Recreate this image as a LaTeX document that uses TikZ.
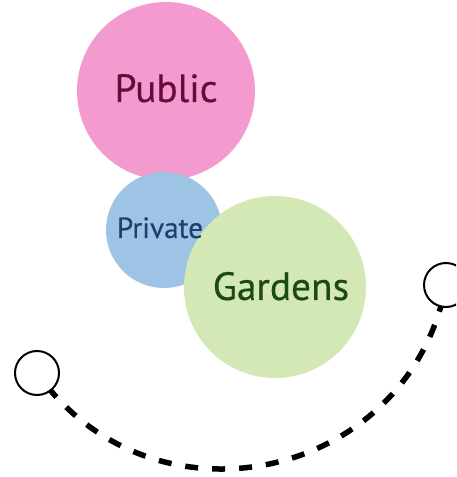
\documentclass[tikz,border=0pt]{standalone}
\usepackage{fontspec}
\setmainfont{PT Sans}
\newfontfamily\lblfont{PT Sans}[FakeBold=0.4]
\usetikzlibrary{backgrounds}
\definecolor{pubfill}{HTML}{F39BCF}
\definecolor{pubtext}{HTML}{6A0A3C}
\definecolor{privfill}{HTML}{9DC3E5}
\definecolor{privtext}{HTML}{1F3F6E}
\definecolor{gardfill}{HTML}{D4E8B5}
\definecolor{gardtext}{HTML}{1D4A0F}
\tikzset{
  bigc/.style={circle, inner sep=0pt, outer sep=0pt, draw=none},
  smallc/.style={circle, inner sep=0pt, outer sep=0pt, minimum size=44pt, draw=black, line width=2pt, fill=white},
  lbl/.style={anchor=base, inner sep=0pt},
  path dash/.style={line width=5.5pt, dash pattern=on 13pt off 14pt, dash phase=9pt}
}
\begin{document}
\begin{tikzpicture}[x=1pt,y=1pt]
\useasboundingbox (0,0) rectangle (456,477);
\clip (0,0) rectangle (456,477);
\node[bigc, fill=pubfill, minimum size=178pt] (pub) at (166,386) {};
\node[bigc, fill=privfill, minimum size=116pt] (priv) at (164,247) {};
\node[bigc, fill=gardfill, minimum size=182pt] (gard) at (275,190) {};
\node[lbl, text=pubtext, font=\lblfont\fontsize{39.4}{41}\selectfont] (publbl) at (166,375) {Public};
\node[lbl, text=privtext, font=\lblfont\fontsize{29.2}{31}\selectfont] (privlbl) at (160,239) {Private};
\node[lbl, text=gardtext, font=\lblfont\fontsize{39.4}{41}\selectfont] (gardlbl) at (281,177) {Gardens};
\node[smallc] (L) at (37,104) {};
\node[smallc] (R) at (446,192) {};
\begin{pgfonlayer}{background}
\fill[white] (0,0) rectangle (456,477);
\draw[path dash] (L.center) to[out=-54.8, in=-100.9, looseness=1.223] (R.center);
\end{pgfonlayer}
\end{tikzpicture}
\end{document}
